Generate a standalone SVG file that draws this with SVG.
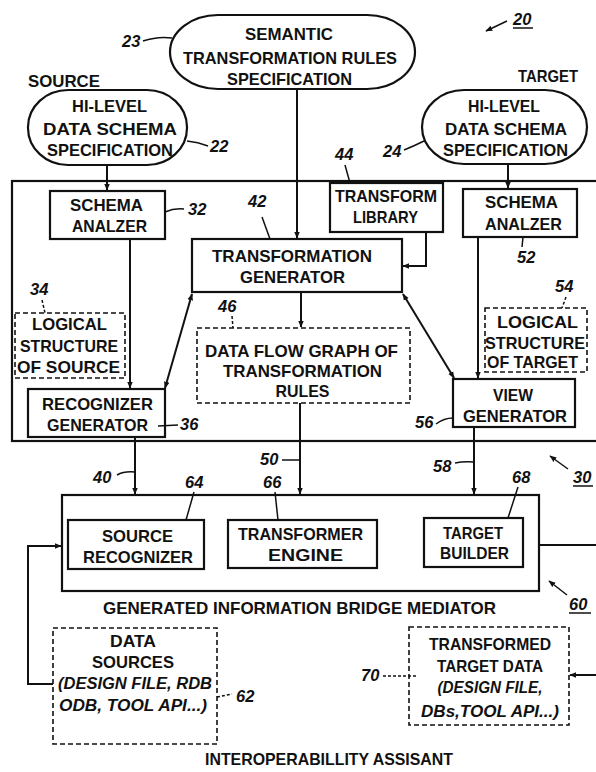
<svg xmlns="http://www.w3.org/2000/svg" width="596" height="772" viewBox="0 0 596 772">
<defs>
<marker id="ah" viewBox="0 0 10 10" refX="9" refY="5" markerWidth="7" markerHeight="7" orient="auto-start-reverse" markerUnits="userSpaceOnUse">
<path d="M0,1 L10,5 L0,9 Z" fill="#111"/>
</marker>
<style>
.b{fill:#fff;stroke:#111;stroke-width:2.2}
.d{fill:#fff;stroke:#111;stroke-width:1.6;stroke-dasharray:5,3}
.t{font-family:"Liberation Sans",Arial,sans-serif;font-weight:bold;font-size:16.5px;fill:#111;text-anchor:middle}
.ti{font-family:"Liberation Sans",Arial,sans-serif;font-weight:bold;font-style:italic;font-size:16px;fill:#111;text-anchor:middle}
.n{font-family:"Liberation Sans",Arial,sans-serif;font-weight:bold;font-style:italic;font-size:16.5px;fill:#111}
.c{fill:none;stroke:#111;stroke-width:2}
.l{fill:none;stroke:#111;stroke-width:1.5}
.ld{fill:none;stroke:#111;stroke-width:1.5;stroke-dasharray:3,2}
</style>
</defs>
<rect width="596" height="772" fill="#fff"/>

<g id="box30"><rect x="12" y="181" width="600" height="260" class="b"/></g>
<g id="mediator60"><rect x="62" y="495" width="477" height="96" class="b"/></g>

<g id="semantic23">
<rect x="170" y="15" width="245" height="74" rx="48" ry="37" class="b"/>
<text class="t" x="289" y="40" textLength="88" lengthAdjust="spacingAndGlyphs">SEMANTIC</text>
<text class="t" x="290" y="64" textLength="214" lengthAdjust="spacingAndGlyphs">TRANSFORMATION RULES</text>
<text class="t" x="289.5" y="85" textLength="125" lengthAdjust="spacingAndGlyphs">SPECIFICATION</text>
</g>

<g id="source22">
<rect x="28" y="90" width="159" height="75" rx="40" ry="37" class="b"/>
<text class="t" x="109.5" y="112" textLength="75" lengthAdjust="spacingAndGlyphs">HI-LEVEL</text>
<text class="t" x="110" y="135" textLength="134" lengthAdjust="spacingAndGlyphs">DATA SCHEMA</text>
<text class="t" x="110" y="156" textLength="126" lengthAdjust="spacingAndGlyphs">SPECIFICATION</text>
</g>

<g id="target24">
<rect x="422" y="90" width="165" height="74" rx="42" ry="37" class="b"/>
<text class="t" x="504" y="112" textLength="72" lengthAdjust="spacingAndGlyphs">HI-LEVEL</text>
<text class="t" x="506" y="135" textLength="122" lengthAdjust="spacingAndGlyphs">DATA SCHEMA</text>
<text class="t" x="505.5" y="156" textLength="125" lengthAdjust="spacingAndGlyphs">SPECIFICATION</text>
</g>

<g id="schema32">
<rect x="50" y="191" width="115" height="48" class="b"/>
<text class="t" x="106.5" y="211" textLength="73" lengthAdjust="spacingAndGlyphs">SCHEMA</text>
<text class="t" x="109.5" y="232" textLength="75" lengthAdjust="spacingAndGlyphs">ANALZER</text>
</g>

<g id="library44">
<rect x="330" y="183" width="113" height="49" class="b"/>
<text class="t" x="386" y="202" textLength="102" lengthAdjust="spacingAndGlyphs">TRANSFORM</text>
<text class="t" x="385.5" y="223" textLength="65" lengthAdjust="spacingAndGlyphs">LIBRARY</text>
</g>

<g id="schema52">
<rect x="463" y="189" width="114" height="48" class="b"/>
<text class="t" x="521.5" y="208" textLength="73" lengthAdjust="spacingAndGlyphs">SCHEMA</text>
<text class="t" x="523.5" y="230" textLength="77" lengthAdjust="spacingAndGlyphs">ANALZER</text>
</g>

<g id="transgen42">
<rect x="192" y="239" width="210" height="53" class="b"/>
<text class="t" x="292" y="262" textLength="160" lengthAdjust="spacingAndGlyphs">TRANSFORMATION</text>
<text class="t" x="292.5" y="283" textLength="105" lengthAdjust="spacingAndGlyphs">GENERATOR</text>
</g>

<g id="logsrc34">
<rect x="15" y="313" width="110" height="65" class="d"/>
<text class="t" x="69.5" y="330" textLength="75" lengthAdjust="spacingAndGlyphs">LOGICAL</text>
<text class="t" x="69" y="352" textLength="98" lengthAdjust="spacingAndGlyphs">STRUCTURE</text>
<text class="t" x="68.5" y="373" textLength="103" lengthAdjust="spacingAndGlyphs">OF SOURCE</text>
</g>

<g id="dfg46">
<rect x="197" y="328" width="213" height="75" class="d"/>
<text class="t" x="301.5" y="357" textLength="193" lengthAdjust="spacingAndGlyphs">DATA FLOW GRAPH OF</text>
<text class="t" x="302.5" y="377" textLength="159" lengthAdjust="spacingAndGlyphs">TRANSFORMATION</text>
<text class="t" x="302.5" y="397" textLength="54" lengthAdjust="spacingAndGlyphs">RULES</text>
</g>

<g id="logtgt54">
<rect x="485" y="308" width="102" height="64" class="d"/>
<text class="t" x="537.5" y="328" textLength="81" lengthAdjust="spacingAndGlyphs">LOGICAL</text>
<text class="t" x="535" y="349" textLength="100" lengthAdjust="spacingAndGlyphs">STRUCTURE</text>
<text class="t" x="532.5" y="368" textLength="91" lengthAdjust="spacingAndGlyphs">OF TARGET</text>
</g>

<g id="recog36">
<rect x="28" y="389" width="137" height="48" class="b"/>
<text class="t" x="97.5" y="410" textLength="111" lengthAdjust="spacingAndGlyphs">RECOGNIZER</text>
<text class="t" x="97.5" y="431" textLength="101" lengthAdjust="spacingAndGlyphs">GENERATOR</text>
</g>

<g id="viewgen56">
<rect x="453" y="379" width="122" height="48" class="b"/>
<text class="t" x="513" y="401" textLength="40" lengthAdjust="spacingAndGlyphs">VIEW</text>
<text class="t" x="515" y="422" textLength="104" lengthAdjust="spacingAndGlyphs">GENERATOR</text>
</g>

<g id="srcrec64">
<rect x="68" y="520" width="136" height="49" class="b"/>
<text class="t" x="137.5" y="542" textLength="71" lengthAdjust="spacingAndGlyphs">SOURCE</text>
<text class="t" x="138" y="563" textLength="110" lengthAdjust="spacingAndGlyphs">RECOGNIZER</text>
</g>

<g id="engine66">
<rect x="228" y="520" width="149" height="48" class="b"/>
<text class="t" x="300.5" y="540" textLength="125" lengthAdjust="spacingAndGlyphs">TRANSFORMER</text>
<text class="t" x="305.5" y="561" textLength="75" lengthAdjust="spacingAndGlyphs">ENGINE</text>
</g>

<g id="builder68">
<rect x="424" y="518" width="99" height="49" class="b"/>
<text class="t" x="473" y="539" textLength="60" lengthAdjust="spacingAndGlyphs">TARGET</text>
<text class="t" x="474.5" y="559" textLength="69" lengthAdjust="spacingAndGlyphs">BUILDER</text>
</g>

<g id="datasrc62">
<rect x="53" y="628" width="164" height="116" class="d"/>
<text class="t" x="133" y="647" textLength="46" lengthAdjust="spacingAndGlyphs">DATA</text>
<text class="t" x="133" y="668" textLength="82" lengthAdjust="spacingAndGlyphs">SOURCES</text>
<text class="ti" x="135" y="689" textLength="154" lengthAdjust="spacingAndGlyphs">(DESIGN FILE, RDB</text>
<text class="ti" x="133" y="711" textLength="148" lengthAdjust="spacingAndGlyphs">ODB, TOOL API...)</text>
</g>

<g id="tgtdata70">
<rect x="409" y="627" width="160" height="98" class="d"/>
<text class="t" x="490" y="650" textLength="122" lengthAdjust="spacingAndGlyphs">TRANSFORMED</text>
<text class="t" x="490" y="672" textLength="106" lengthAdjust="spacingAndGlyphs">TARGET DATA</text>
<text class="ti" x="490" y="693" textLength="105" lengthAdjust="spacingAndGlyphs">(DESIGN FILE,</text>
<text class="ti" x="490" y="717" textLength="138" lengthAdjust="spacingAndGlyphs">DBs,TOOL API...)</text>
</g>

<g id="connectors">
<path class="c" d="M107,165 V190" marker-end="url(#ah)"/>
<path class="c" d="M508,164 V188" marker-end="url(#ah)"/>
<path class="c" d="M297,89 V238" marker-end="url(#ah)"/>
<path class="c" d="M426,232 V266 H403" marker-end="url(#ah)"/>
<path class="c" d="M130,239 V388" marker-end="url(#ah)"/>
<path class="c" d="M478,237 V378" marker-end="url(#ah)"/>
<path class="c" d="M301,292 V327" marker-end="url(#ah)"/>
<path class="c" d="M165,388 L192,294" marker-start="url(#ah)" marker-end="url(#ah)"/>
<path class="c" d="M403,294 L454,378" marker-start="url(#ah)" marker-end="url(#ah)"/>
<path class="c" d="M135,437 V494" marker-end="url(#ah)"/>
<path class="c" d="M300,403 V494" marker-end="url(#ah)"/>
<path class="c" d="M474,427 V494" marker-end="url(#ah)"/>
<path class="c" d="M53,684 H28 V546 H61" marker-end="url(#ah)"/>
<path class="c" d="M539,545 H600"/>
<path class="c" d="M600,675 H570" marker-end="url(#ah)"/>
</g>

<g id="labels">
<text class="t" x="64" y="87" textLength="72" lengthAdjust="spacingAndGlyphs">SOURCE</text>
<text class="t" x="548" y="82" textLength="60" lengthAdjust="spacingAndGlyphs">TARGET</text>
<text class="t" x="299.5" y="614" textLength="393" lengthAdjust="spacingAndGlyphs">GENERATED INFORMATION BRIDGE MEDIATOR</text>
<text class="t" x="329" y="765" textLength="248" lengthAdjust="spacingAndGlyphs">INTEROPERABILLITY ASSISANT</text>

<text class="n" x="122" y="47">23</text>
<path class="l" d="M143,41 Q158,36 172,38"/>
<text class="n" x="210" y="152">22</text>
<path class="l" d="M187,141 Q198,142 208,146"/>
<text class="n" x="513" y="25">20</text>
<path class="l" d="M513,28 H533"/>
<path class="l" d="M507,21 L486,31" marker-end="url(#ah)"/>
<text class="n" x="383" y="157">24</text>
<path class="l" d="M404,150 Q414,146 424,141"/>
<text class="n" x="335" y="160">44</text>
<path class="l" d="M345,165 L350,183"/>
<text class="n" x="188" y="215">32</text>
<path class="l" d="M165,212 Q174,208 184,209"/>
<text class="n" x="248" y="207">42</text>
<path class="l" d="M262,217 L270,239"/>
<text class="n" x="517" y="263">52</text>
<path class="l" d="M523,237 L522,247"/>
<text class="n" x="555" y="292">54</text>
<path class="ld" d="M566,297 L562,308"/>
<text class="n" x="30" y="295">34</text>
<path class="ld" d="M42,300 L45,313"/>
<text class="n" x="218" y="312">46</text>
<path class="ld" d="M232,316 L233,328"/>
<text class="n" x="180" y="430">36</text>
<path class="l" d="M158,426 L178,425"/>
<text class="n" x="415" y="428">56</text>
<path class="l" d="M436,424 Q444,418 453,418"/>
<text class="n" x="93" y="483">40</text>
<path class="l" d="M117,475 Q124,471 135,472"/>
<text class="n" x="260" y="465">50</text>
<path class="l" d="M282,460 H300"/>
<text class="n" x="433" y="472">58</text>
<path class="l" d="M455,463 Q464,461 474,462"/>
<text class="n" x="185" y="488">64</text>
<path class="l" d="M194,492 L186,520"/>
<text class="n" x="263" y="488">66</text>
<path class="l" d="M275,492 L278,520"/>
<text class="n" x="512" y="483">68</text>
<path class="l" d="M518,487 L508,518"/>
<text class="n" x="573" y="483">30</text>
<path class="l" d="M573,486 H593"/>
<path class="l" d="M568,469 L550,456" marker-end="url(#ah)"/>
<text class="n" x="569" y="610">60</text>
<path class="l" d="M569,613 H591"/>
<path class="l" d="M567,595 L549,581" marker-end="url(#ah)"/>
<text class="n" x="236" y="702">62</text>
<path class="ld" d="M217,697 L232,694"/>
<text class="n" x="361" y="681">70</text>
<path class="ld" d="M383,676 H416"/>
</g>
</svg>
